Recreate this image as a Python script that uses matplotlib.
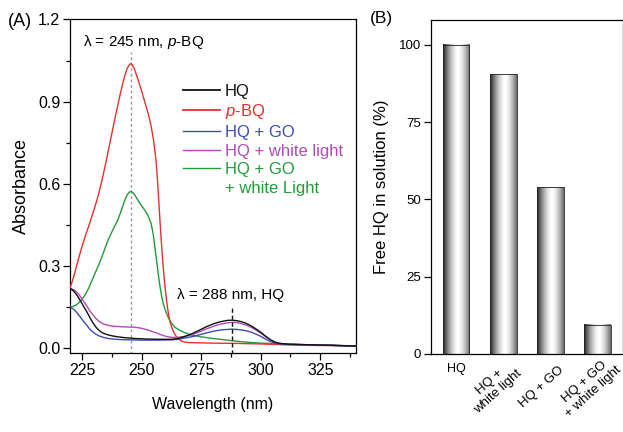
import numpy as np
import matplotlib
matplotlib.use("Agg")
import matplotlib.pyplot as plt
from matplotlib.lines import Line2D
from matplotlib.transforms import blended_transform_factory

plt.rcParams['font.family'] = ['Liberation Sans', 'DejaVu Sans']
plt.rcParams['mathtext.fontset'] = 'custom'
plt.rcParams['mathtext.it'] = 'Liberation Sans:italic'
plt.rcParams['mathtext.rm'] = 'Liberation Sans'

# ---- panel A: UV-vis spectra ----
hq_wl = [220, 221, 222, 223, 224, 225, 226, 227, 228, 229, 230, 231, 232, 233, 234, 236, 238,
         240, 243, 247, 252, 257, 262, 265, 268, 271, 274, 277, 280, 283, 286, 288, 290, 292,
         294, 296, 298, 300, 302, 304, 306, 308, 312, 320, 330, 340]
hq_abs = [0.218, 0.212, 0.203, 0.192, 0.178, 0.163, 0.148, 0.133, 0.117, 0.101, 0.087, 0.075,
          0.066, 0.059, 0.054, 0.048, 0.044, 0.041, 0.038, 0.035, 0.033, 0.032, 0.032, 0.034,
          0.042, 0.052, 0.064, 0.077, 0.088, 0.096, 0.101, 0.102, 0.100, 0.096, 0.090, 0.081,
          0.070, 0.058, 0.044, 0.031, 0.022, 0.017, 0.014, 0.012, 0.010, 0.007]

bq_wl = [220, 221, 222, 223, 224, 225, 226, 227, 228, 229, 230, 231, 232, 233, 234, 235, 236,
         237, 238, 239, 240, 241, 242, 243, 244, 245, 245.5, 246, 247, 248, 249, 250, 251, 252,
         253, 254, 255, 256, 256.5, 257, 257.5, 258, 258.5, 259, 259.5, 260, 260.5, 261, 261.5,
         262, 263, 264, 265, 266, 267, 268, 270, 275, 280, 290, 300, 310, 320, 330, 340]
bq_abs = [0.220, 0.245, 0.275, 0.308, 0.340, 0.370, 0.398, 0.424, 0.450, 0.477, 0.504, 0.532,
          0.563, 0.598, 0.636, 0.676, 0.718, 0.760, 0.803, 0.845, 0.885, 0.925, 0.962, 0.995,
          1.022, 1.036, 1.039, 1.035, 1.020, 0.995, 0.968, 0.940, 0.910, 0.880, 0.850, 0.812,
          0.762, 0.692, 0.640, 0.572, 0.500, 0.430, 0.365, 0.308, 0.258, 0.213, 0.175, 0.142,
          0.116, 0.095, 0.068, 0.050, 0.038, 0.030, 0.025, 0.022, 0.020, 0.019, 0.018, 0.017,
          0.015, 0.012, 0.010, 0.009, 0.008]

go_wl = [220, 221, 222, 223, 224, 225, 226, 227, 228, 229, 230, 231, 232, 234, 236, 238, 241,
         245, 250, 257, 263, 266, 269, 272, 275, 278, 281, 284, 286, 288, 290, 292, 294, 296,
         298, 300, 302, 304, 306, 308, 312, 320, 330, 340]
go_abs = [0.149, 0.145, 0.138, 0.128, 0.117, 0.105, 0.094, 0.084, 0.072, 0.063, 0.056, 0.050,
          0.045, 0.039, 0.035, 0.033, 0.031, 0.030, 0.029, 0.029, 0.030, 0.033, 0.038, 0.043,
          0.050, 0.057, 0.063, 0.067, 0.068, 0.069, 0.068, 0.066, 0.063, 0.058, 0.051, 0.043,
          0.033, 0.024, 0.018, 0.015, 0.013, 0.012, 0.010, 0.007]

light_wl = [220, 221, 222, 223, 224, 225, 226, 227, 228, 229, 230, 231, 232, 233, 234, 236,
            238, 241, 244, 247, 249, 251, 253, 255, 257, 259, 261, 263, 265, 268, 271, 274,
            277, 280, 283, 286, 288, 290, 292, 294, 296, 298, 300, 302, 304, 306, 308, 312,
            320, 330, 340]
light_abs = [0.218, 0.215, 0.210, 0.203, 0.192, 0.180, 0.167, 0.154, 0.140, 0.128, 0.117,
             0.107, 0.099, 0.093, 0.088, 0.083, 0.080, 0.078, 0.077, 0.076, 0.074, 0.070,
             0.065, 0.059, 0.053, 0.046, 0.041, 0.039, 0.039, 0.042, 0.048, 0.058, 0.069,
             0.079, 0.087, 0.092, 0.094, 0.093, 0.089, 0.084, 0.076, 0.066, 0.055, 0.042,
             0.030, 0.021, 0.017, 0.014, 0.012, 0.010, 0.007]

golight_wl = [220, 221, 222, 223, 224, 225, 226, 227, 228, 229, 230, 231, 232, 233, 234, 235,
              236, 237, 238, 239, 240, 241, 242, 243, 244, 245, 245.5, 246, 247, 248, 249,
              250, 251, 252, 253, 254, 254.5, 255, 255.5, 256, 256.5, 257, 257.5, 258, 258.5,
              259, 260, 261, 262, 263, 264, 266, 268, 270, 272, 275, 280, 285, 290, 295, 300,
              310, 320, 330, 340]
golight_abs = [0.149, 0.151, 0.155, 0.160, 0.168, 0.178, 0.190, 0.205, 0.222, 0.243, 0.263,
               0.283, 0.303, 0.325, 0.348, 0.372, 0.395, 0.414, 0.432, 0.450, 0.467, 0.490,
               0.515, 0.540, 0.560, 0.570, 0.572, 0.570, 0.561, 0.547, 0.533, 0.520, 0.508,
               0.495, 0.478, 0.455, 0.435, 0.410, 0.377, 0.342, 0.307, 0.272, 0.240, 0.212,
               0.187, 0.166, 0.138, 0.116, 0.099, 0.086, 0.076, 0.065, 0.057, 0.050, 0.046,
               0.041, 0.035, 0.030, 0.025, 0.021, 0.018, 0.015, 0.012, 0.010, 0.008]

peak_bq = 245.5
peak_hq = 288

# ---- panel B: free HQ ----
bar_labels = ["HQ", "HQ +\nwhite light", "HQ + GO", "HQ + GO\n+ white light"]
free_hq = [100, 90.5, 54, 9.5]

C_HQ = "#111111"
C_BQ = "#e8302a"
C_GO = "#3a4db5"
C_LIGHT = "#b04ab8"
C_GOLIGHT = "#249a38"

fig = plt.figure(figsize=(6.23, 4.32), dpi=100)
axA = fig.add_axes([0.1124, 0.1829, 0.4590, 0.7720])
axB = fig.add_axes([0.6918, 0.1806, 0.3074, 0.7731])

lw = 1.0
axA.plot(hq_wl, hq_abs, color=C_HQ, lw=lw, zorder=5)
axA.plot(light_wl, light_abs, color=C_LIGHT, lw=lw, zorder=4)
axA.plot(go_wl, go_abs, color=C_GO, lw=lw, zorder=4)
axA.plot(golight_wl, golight_abs, color=C_GOLIGHT, lw=lw, zorder=3)
axA.plot(bq_wl, bq_abs, color=C_BQ, lw=lw, zorder=3)

axA.plot([peak_bq, peak_bq], [-0.02, 1.08], color="#999999", lw=1.0, ls=(0, (2, 2)), zorder=1)
axA.plot([peak_hq, peak_hq], [-0.02, 0.15], color="#111111", lw=1.0, ls=(0, (3, 2)), zorder=6)

axA.text(225.5, 1.116, r"λ = 245 nm, $p$-BQ", fontsize=11, va="center", ha="left")
axA.text(265, 0.194, "λ = 288 nm, HQ", fontsize=11, va="center", ha="left")

axA.set_xlim(220, 340)
axA.set_ylim(-0.018, 1.2)
axA.set_xticks([225, 250, 275, 300, 325])
axA.set_xticks(np.arange(237.5, 340, 25), minor=True)
axA.set_yticks([0.0, 0.3, 0.6, 0.9, 1.2])
axA.set_yticks([0.15, 0.45, 0.75, 1.05], minor=True)
axA.yaxis.set_major_formatter(matplotlib.ticker.FormatStrFormatter("%.1f"))
axA.tick_params(which="major", direction="out", length=5, width=0.9, labelsize=11.5, pad=2)
axA.tick_params(which="minor", direction="out", length=3, width=0.9)
for s in axA.spines.values():
    s.set_linewidth(0.9)
axA.set_xlabel("Wavelength (nm)", fontsize=11.5, labelpad=14)
axA.set_ylabel("Absorbance", fontsize=13, labelpad=6)

# legend, the two-line label is split so the handle sits on its first line
handles = [Line2D([], [], color=C_HQ, lw=1.3),
           Line2D([], [], color=C_BQ, lw=1.3),
           Line2D([], [], color=C_GO, lw=1.0),
           Line2D([], [], color=C_LIGHT, lw=1.0),
           Line2D([], [], color=C_GOLIGHT, lw=1.0),
           Line2D([], [], color=C_GOLIGHT, lw=0)]
labels = ["HQ", r"$p$-BQ", "HQ + GO", "HQ + white light", "HQ + GO", "+ white Light"]
leg = axA.legend(handles, labels, loc="upper left", bbox_to_anchor=(0.395, 0.808),
                 frameon=False, fontsize=12, handlelength=2.2, handletextpad=0.3,
                 labelspacing=0.22, borderpad=0, borderaxespad=0)
for txt, h in zip(leg.get_texts(), handles):
    txt.set_color(h.get_color())

fig.text(8 / 623, 1 - 21 / 432, "(A)", fontsize=13, va="center", ha="left")

# panel B bars with cylinder shading
t = np.linspace(0, 1, 256)
shade = 0.12 + 0.88 * np.clip(1 - (np.abs(t - 0.56) / 0.56) ** 1.6, 0, 1)
shade = shade[np.newaxis, :]
width = 0.57
xpos = np.arange(len(free_hq))
bars = axB.bar(xpos, free_hq, width=width, color="none", edgecolor="#222222", lw=0.6, zorder=3)
for b in bars:
    x0, h = b.get_x(), b.get_height()
    axB.imshow(shade, cmap="gray", vmin=0, vmax=1, aspect="auto",
               extent=[x0, x0 + width, 0, h], interpolation="bilinear", zorder=2)

axB.set_xlim(-0.53, 3.53)
axB.set_ylim(0, 108)
axB.set_yticks([0, 25, 50, 75, 100])
axB.set_xticks(xpos)
axB.set_xticklabels([])
axB.tick_params(axis="x", length=0)
axB.tick_params(axis="y", direction="out", length=5, width=0.9, labelsize=9.5, pad=2)
for s in axB.spines.values():
    s.set_linewidth(0.9)
axB.set_ylabel("Free HQ in solution (%)", fontsize=12, labelpad=7)

trans = blended_transform_factory(axB.transData, axB.transAxes)
for i, lab in enumerate(bar_labels):
    if i == 0:
        axB.annotate(lab, xy=(xpos[i], 0), xycoords=trans, xytext=(0, -15),
                     textcoords="offset pixels", ha="center", va="center", fontsize=9,
                     annotation_clip=False)
    else:
        axB.annotate(lab, xy=(xpos[i], 0), xycoords=trans, xytext=(-9, -33),
                     textcoords="offset pixels", ha="center", va="center", fontsize=9.5,
                     rotation=42, rotation_mode="anchor", multialignment="center",
                     linespacing=1.1, annotation_clip=False)

fig.text(370 / 623, 1 - 18 / 432, "(B)", fontsize=12.5, va="center", ha="left")

fig.savefig("out.png", dpi=100)
